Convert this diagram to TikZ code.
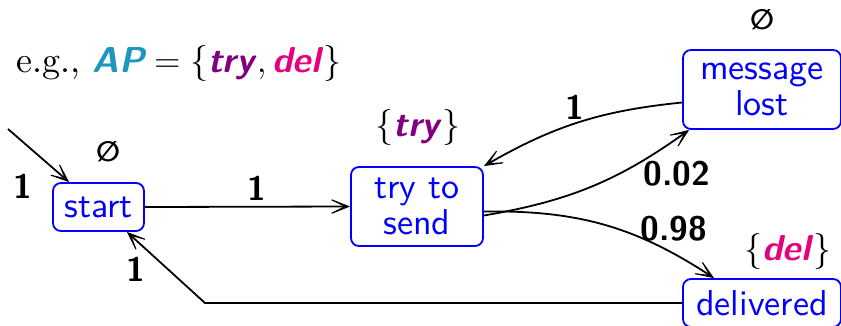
\RequirePackage{fix-cm}
\documentclass[tikz,border=0pt]{standalone}
\usepackage{fontspec}
\setmainfont{lmroman10-regular.otf}[BoldFont=lmroman10-bold.otf, ItalicFont=lmroman10-italic.otf, BoldItalicFont=lmroman10-bolditalic.otf]
\setsansfont{lmsans10-regular.otf}[BoldFont=lmsans10-bold.otf, ItalicFont=lmsans10-oblique.otf, BoldItalicFont=lmsans10-boldoblique.otf]
\newfontfamily\symfont{DejaVu Sans}
\usetikzlibrary{arrows.meta}
\definecolor{apc}{RGB}{30,150,190}
\definecolor{tryc}{RGB}{128,0,128}
\definecolor{delc}{RGB}{230,0,126}
\tikzset{
 state/.style={draw=blue, line width=1.8pt, rounded corners=8pt, text=blue,
   font=\sffamily\fontsize{36}{36}\selectfont, align=center, inner sep=0pt},
 arr/.style={line width=1.8pt, -{Stealth[length=29pt,width=23pt,inset=23pt,line width=1pt]}},
 prob/.style={font=\sffamily\bfseries\fontsize{34}{34}\selectfont, inner sep=0pt},
 lab/.style={font=\fontsize{36}{36}\selectfont, inner sep=0pt},
}
\newcommand{\aptry}{\textcolor{tryc}{\textsf{\bfseries\itshape try}}}
\newcommand{\apdel}{\textcolor{delc}{\textsf{\bfseries\itshape del}}}
\newcommand{\emptyglyph}{{\symfont\bfseries\fontsize{28}{28}\selectfont ∅}}
\begin{document}
\begin{tikzpicture}[x=1pt,y=-1pt]
\useasboundingbox (0,0) rectangle (841,325);
% states
\node[state, minimum width=91pt, minimum height=48pt] (start) at (98.5,207) {start};
\node[state, minimum width=132pt, minimum height=79pt] (try) at (417,206.5) {try to\\send};
\node[state, minimum width=158pt, minimum height=79pt] (msg) at (762,89.5) {message\\lost};
\node[state, minimum width=158pt, minimum height=48pt] (del) at (762,303) {delivered};
% labels
\node[lab] (title) at (179,63) {e.g., $\textcolor{apc}{\mbox{\sffamily\bfseries\itshape AP}} = \{\mbox{\aptry}, \mbox{\apdel}\}$};
\node[lab] (ls) at (108,152) {\emptyglyph};
\node[lab] (lt) at (418,127) {$\{\mbox{\aptry}\}$};
\node[lab] (lm) at (762,20) {\emptyglyph};
\node[lab] (ld) at (788,251) {$\{\mbox{\apdel}\}$};
% edges
\coordinate (i0) at (8,129);
\draw[arr] (i0) -- ([xshift=17pt]start.north west);
\node[prob] (p0) at (23,186) {1};
\draw[arr] (start.east) -- (try.west);
\node[prob] (p1) at (257,188) {1};
\draw[arr] ([yshift=-9pt]try.east) to[bend right=13] ([xshift=7pt]msg.south west);
\node[prob] (p2) at (677,174) {0.02};
\draw[arr] ([yshift=-13pt]msg.west) to[bend right=12] (try.north east);
\node[prob] (p3) at (575,107) {1};
\draw[arr] ([yshift=-5pt]try.east) to[bend left=17] ([xshift=32pt]del.north west);
\node[prob] (p4) at (674,229) {0.98};
\coordinate (c1) at (205,303);
\draw[arr] (del.west) -- (c1) -- ([xshift=-18pt]start.south east);
\node[prob] (p5) at (136,269) {1};
\end{tikzpicture}
\end{document}
